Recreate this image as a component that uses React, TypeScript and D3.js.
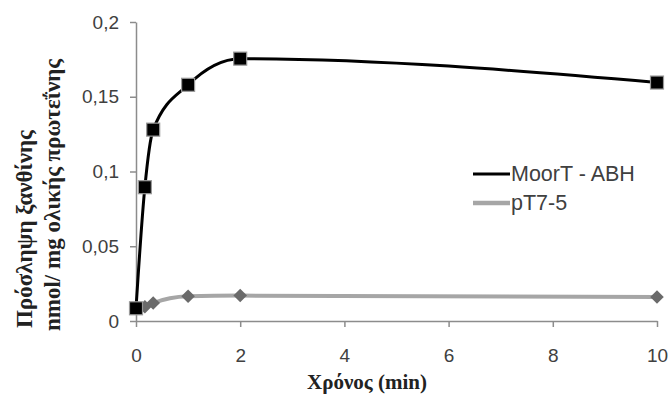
import React, { useEffect, useRef } from "react";
import * as d3 from "d3";

const times = [0, 0.17, 0.33, 1, 2, 10];
const moorT = [0.0085, 0.0895, 0.128, 0.158, 0.1755, 0.1595];
const pT75 = [0.0085, 0.0095, 0.012, 0.0165, 0.017, 0.016];
const xTicks = [0, 2, 4, 6, 8, 10];
const yTicks = [0, 0.05, 0.1, 0.15, 0.2];
const seriesNames = ["MoorT - ABH", "pT7-5"];

const W = 668;
const H = 396;
const margin = { left: 136, right: 11, top: 22, bottom: 75 };

const fmt = (v: number) => String(v).replace(".", ",");

export default function App() {
  const ref = useRef<SVGSVGElement>(null);

  useEffect(() => {
    const svg = d3.select(ref.current);
    svg.selectAll("*").remove();

    const x = d3.scaleLinear().domain([0, 10]).range([margin.left, W - margin.right]);
    const y = d3.scaleLinear().domain([0, 0.2]).range([H - margin.bottom, margin.top]);
    const axisColor = "#8c8c8c";
    const textColor = "#404040";
    const sans = "'Liberation Sans', Arial, sans-serif";
    const serif = "'Liberation Serif', 'Times New Roman', serif";

    const xAxis = svg
      .append("g")
      .attr("transform", `translate(0,${y(0)})`)
      .call(d3.axisBottom(x).tickValues(xTicks).tickSize(6).tickSizeOuter(0).tickFormat((d) => fmt(+d)));
    xAxis.select(".domain").attr("stroke", axisColor).attr("stroke-width", 1.5);
    xAxis.selectAll(".tick line").attr("stroke", axisColor).attr("stroke-width", 1.5);
    xAxis
      .selectAll(".tick text")
      .attr("fill", textColor)
      .attr("font-family", sans)
      .attr("font-size", 19)
      .attr("y", 41)
      .attr("dy", 0);

    const yAxis = svg
      .append("g")
      .attr("transform", `translate(${x(0)},0)`)
      .call(d3.axisLeft(y).tickValues(yTicks).tickSize(6).tickSizeOuter(0).tickFormat((d) => fmt(+d)));
    yAxis.select(".domain").attr("stroke", axisColor).attr("stroke-width", 1.5);
    yAxis.selectAll(".tick line").attr("stroke", axisColor).attr("stroke-width", 1.5);
    yAxis
      .selectAll(".tick text")
      .attr("fill", textColor)
      .attr("font-family", sans)
      .attr("font-size", 19)
      .attr("x", -17);

    const line = d3
      .line<number>()
      .x((_, i) => x(times[i]))
      .y((d) => y(d))
      .curve(d3.curveMonotoneX);

    // pT7-5
    svg
      .append("path")
      .attr("d", line(pT75))
      .attr("fill", "none")
      .attr("stroke", "#a6a6a6")
      .attr("stroke-width", 4);
    svg
      .selectAll(".diamond")
      .data(pT75)
      .enter()
      .append("rect")
      .attr("x", -4.8)
      .attr("y", -4.8)
      .attr("width", 9.6)
      .attr("height", 9.6)
      .attr("fill", "#6a6a6a")
      .attr("transform", (d, i) => `translate(${x(times[i])},${y(d)}) rotate(45)`);

    // MoorT - ABH
    svg
      .append("path")
      .attr("d", line(moorT))
      .attr("fill", "none")
      .attr("stroke", "#000")
      .attr("stroke-width", 3);
    svg
      .selectAll(".square")
      .data(moorT)
      .enter()
      .append("rect")
      .attr("x", (_, i) => x(times[i]) - 6.5)
      .attr("y", (d) => y(d) - 6.5)
      .attr("width", 13)
      .attr("height", 13)
      .attr("fill", "#000")
      .attr("stroke", "#999")
      .attr("stroke-width", 1.2);

    // legend
    const legend = svg.append("g");
    const legendStyles = [
      { color: "#000", width: 3 },
      { color: "#a6a6a6", width: 4.5 },
    ];
    seriesNames.forEach((name, i) => {
      const ly = 174 + i * 29;
      legend
        .append("line")
        .attr("x1", 473)
        .attr("x2", 510)
        .attr("y1", ly)
        .attr("y2", ly)
        .attr("stroke", legendStyles[i].color)
        .attr("stroke-width", legendStyles[i].width);
      legend
        .append("text")
        .attr("x", 511)
        .attr("y", ly + 7)
        .attr("fill", textColor)
        .attr("font-family", sans)
        .attr("font-size", 21.5)
        .text(name);
    });

    // axis titles
    svg
      .append("text")
      .attr("x", 367)
      .attr("y", 389)
      .attr("text-anchor", "middle")
      .attr("font-family", serif)
      .attr("font-weight", "bold")
      .attr("font-size", 21)
      .attr("fill", "#222")
      .text("Χρόνος (min)");

    const yTitle = svg
      .append("text")
      .attr("transform", `translate(0,331) rotate(-90)`)
      .attr("text-anchor", "start")
      .attr("font-family", serif)
      .attr("font-weight", "bold")
      .attr("font-size", 23)
      .attr("fill", "#222");
    yTitle.append("tspan").attr("x", 3).attr("y", 32).text("Πρόσληψη ξανθίνης");
    yTitle.append("tspan").attr("x", 0).attr("y", 60).text("nmol/ mg ολικής πρωτεΐνης");
  }, []);

  return (
    <svg
      ref={ref}
      width={W}
      height={H}
      style={{ position: "absolute", left: 0, top: 0, display: "block", background: "#fff" }}
    />
  );
}
